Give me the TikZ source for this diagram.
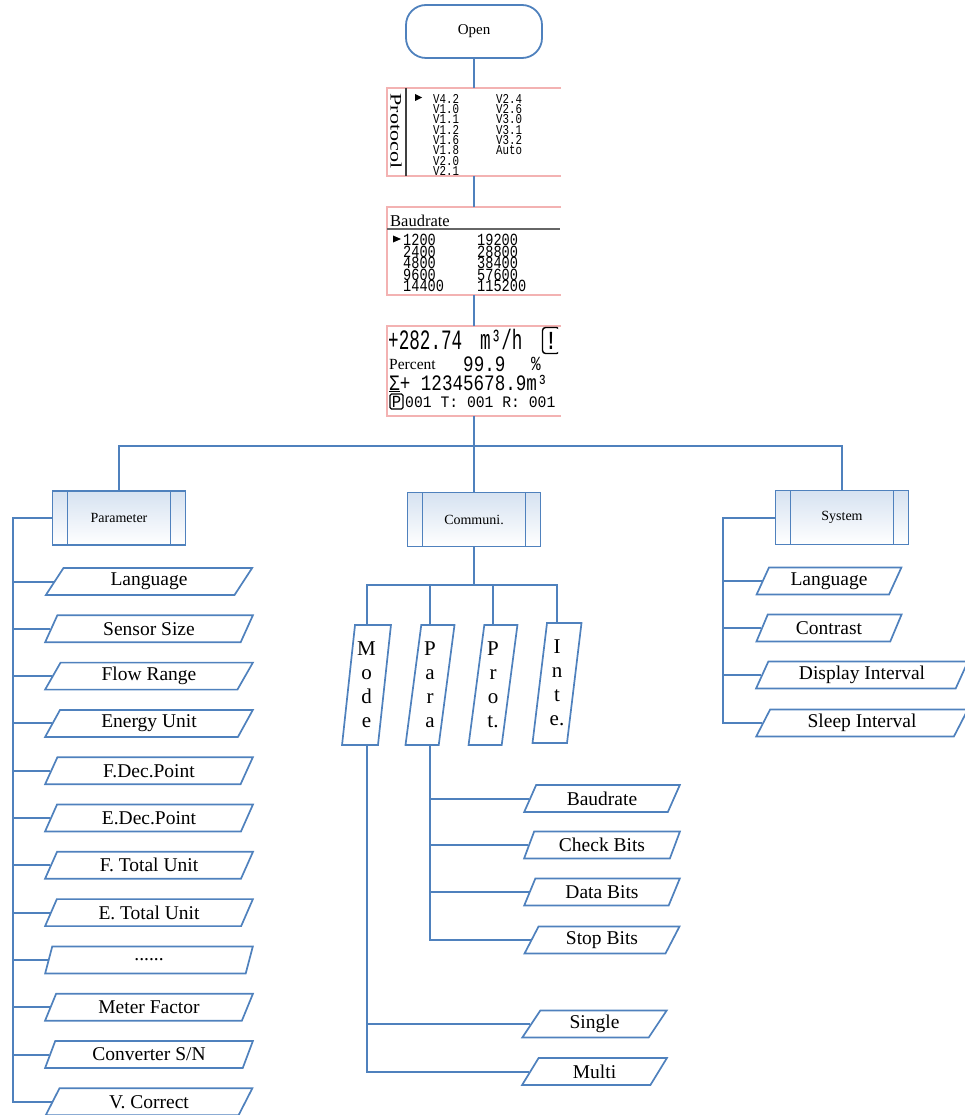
\documentclass[tikz,border=0pt]{standalone}
\usepackage{fontspec}
\setmainfont{Liberation Serif}
\newfontfamily\lcda[FakeStretch=0.63]{Liberation Mono}
\newfontfamily\lcdc[FakeStretch=0.8]{Liberation Mono}
\newfontfamily\lcdd[FakeStretch=0.92]{Liberation Mono}
\usetikzlibrary{shapes.geometric}
\definecolor{linec}{RGB}{79,129,189}
\definecolor{pinkc}{RGB}{243,178,178}
\definecolor{boxtop}{RGB}{214,226,241}
\newcommand{\sz}[2]{\fontsize{#1}{#2}\selectfont\lineskiplimit=-50pt}

\begin{document}
\begin{tikzpicture}[x=1pt,y=-1pt,
  link/.style={draw=linec,line width=2pt},
  term/.style={draw=linec,line width=1.8pt,rounded corners=20pt,minimum width=136pt,minimum height=53pt,font=\sz{15}{17}},
  screen/.style={minimum width=174pt,inner sep=0pt},
  proc/.style={draw=linec,line width=1.8pt,top color=boxtop,bottom color=white,minimum width=133pt,minimum height=54pt,font=\sz{14}{16},
    path picture={\draw[linec,line width=1.8pt]
      ([xshift=15pt]path picture bounding box.north west) -- ([xshift=15pt]path picture bounding box.south west)
      ([xshift=-15pt]path picture bounding box.north east) -- ([xshift=-15pt]path picture bounding box.south east);}},
  item/.style={trapezium,trapezium left angle=65,trapezium right angle=115,trapezium stretches=true,
    draw=linec,line width=1.7pt,fill=white,minimum height=27pt,inner sep=0pt,font=\sz{19.5}{22}},
  pitem/.style={item,minimum width=208pt},
  tall/.style={item,trapezium left angle=83,trapezium right angle=97,minimum width=49pt,minimum height=120pt,align=center,font=\sz{21}{24}},
  lcdtext/.style={inner sep=0pt,align=left}]

  \useasboundingbox (0,0) rectangle (965,1115);

  \node[term] (open) at (474,31.5) {Open};
  \node[screen,minimum height=88pt] (s1) at (474,132) {};
  \node[screen,minimum height=88pt] (s2) at (474,251) {};
  \node[screen,minimum height=90pt] (s3) at (474,371) {};

  \draw[pinkc,line width=1.5pt] (s1.north east) -- (s1.north west) -- (s1.south west) -- (s1.south east);
  \draw[pinkc,line width=1.5pt] (s2.north east) -- (s2.north west) -- (s2.south west) -- (s2.south east);
  \draw[pinkc,line width=1.5pt] (s3.north east) -- (s3.north west) -- (s3.south west) -- (s3.south east);

  \node[rotate=-90,inner sep=0pt,font=\sz{16}{18}] (t1) at (396,131) {\scalebox{1.38}[1]{Protocol}};
  \draw[black!75,line width=1.3pt] (406,88) -- (406,176);
  \fill (415,94) -- (422,97.5) -- (415,101) -- cycle;
  \begin{scope}
    \clip (s1.north west) rectangle (s1.south east);
    \node[lcdtext,anchor=north west,font=\lcdc\sz{13.5}{10.3}] (t2) at (433,94) {V4.2\\V1.0\\V1.1\\V1.2\\V1.6\\V1.8\\V2.0\\V2.1};
    \node[lcdtext,anchor=north west,font=\lcdc\sz{13.5}{10.3}] (t3) at (496,94) {V2.4\\V2.6\\V3.0\\V3.1\\V3.2\\Auto};
  \end{scope}

  \node[inner sep=0pt,anchor=base west,font=\sz{16.5}{18}] (t4) at (390,226) {Baudrate};
  \draw[black!60,line width=2pt] (387,229.5) -- (560,229.5);
  \fill (393,235.5) -- (401,239) -- (393,242.5) -- cycle;
  \begin{scope}
    \clip (s2.north west) rectangle (s2.south east);
    \node[lcdtext,anchor=north west,font=\lcdc\sz{17}{11.6}] (t5) at (403,234) {1200\\2400\\4800\\9600\\14400};
    \node[lcdtext,anchor=north west,font=\lcdc\sz{17}{11.6}] (t6) at (477,234) {19200\\28800\\38400\\57600\\115200};
  \end{scope}

  \begin{scope}
    \clip (s3.north west) rectangle ([xshift=-3pt]s3.south east);
    \node[inner sep=0pt,anchor=base west,font=\lcda\sz{28}{30}] (t7) at (388,349) {+282.74};
    \node[inner sep=0pt,anchor=base west,font=\lcda\sz{28}{30}] (t8) at (480,349) {m³/h};
    \node[draw,line width=1.4pt,rounded corners=3pt,minimum width=17pt,minimum height=26pt,inner sep=0pt,font=\lcda\bfseries\sz{26}{28}] (t9) at (551,340.5) {!};
    \node[inner sep=0pt,anchor=base west,font=\sz{15.5}{17}] (t10) at (389,369) {Percent};
    \node[inner sep=0pt,anchor=base west,font=\lcdc\sz{22}{24}] (t11) at (463,371) {99.9};
    \node[inner sep=0pt,anchor=base west,font=\lcdc\sz{20}{22}] (t12) at (531,370) {\%};
    \node[inner sep=0pt,anchor=base west,font=\lcdc\sz{22}{24}] (t13) at (389,390) {\underline{Σ}+ 12345678.9m³};
    \node[draw,line width=1.1pt,rounded corners=1.5pt,inner sep=0pt,minimum width=13pt,minimum height=15pt,font=\lcdd\sz{17}{19}] (t14) at (396.5,401.5) {P};
    \node[inner sep=0pt,anchor=base west,font=\lcdd\sz{16}{18}] (t15) at (405,407.5) {001 T: 001 R: 001};
  \end{scope}

  \draw[link] (open) -- (s1);
  \draw[link] (s1) -- (s2);
  \draw[link] (s2) -- (s3);

  \coordinate (bus) at (474,446);
  \node[proc] (p0) at (119,518) {Parameter};
  \node[proc] (c0) at (474,519.5) {Communi.};
  \node[proc] (y0) at (842,517.5) {System};
  \draw[link] (s3) -- (bus);
  \draw[link] (p0) |- (bus) -| (y0);
  \draw[link] (bus) -- (c0);

  \coordinate (pl) at (13,518);
  \node[pitem] (p1) at (149,581.5) {Language};
  \node[pitem] (p2) at (149,628.8) {Sensor Size};
  \node[pitem] (p3) at (149,676.1) {Flow Range};
  \node[pitem] (p4) at (149,723.4) {Energy Unit};
  \node[pitem] (p5) at (149,770.7) {F.Dec.Point};
  \node[pitem] (p6) at (149,818) {E.Dec.Point};
  \node[pitem] (p7) at (149,865.3) {F. Total Unit};
  \node[pitem] (p8) at (149,912.6) {E. Total Unit};
  \node[pitem] (p9) at (149,959.9) {......};
  \node[pitem] (p10) at (149,1007.2) {Meter Factor};
  \node[pitem] (p11) at (149,1054.5) {Converter S/N};
  \node[pitem] (p12) at (149,1101.8) {V. Correct};
  \draw[link] (p0) -- (pl) |- (p12.left side);
  \draw[link] (p1.left side) -- (p1.left side -| pl);
  \draw[link] (p2.left side) -- (p2.left side -| pl);
  \draw[link] (p3.left side) -- (p3.left side -| pl);
  \draw[link] (p4.left side) -- (p4.left side -| pl);
  \draw[link] (p5.left side) -- (p5.left side -| pl);
  \draw[link] (p6.left side) -- (p6.left side -| pl);
  \draw[link] (p7.left side) -- (p7.left side -| pl);
  \draw[link] (p8.left side) -- (p8.left side -| pl);
  \draw[link] (p9.left side) -- (p9.left side -| pl);
  \draw[link] (p10.left side) -- (p10.left side -| pl);
  \draw[link] (p11.left side) -- (p11.left side -| pl);

  \coordinate (cbus) at (474,585);
  \node[tall] (c1) at (366.5,685) {M\\o\\d\\e};
  \node[tall] (c2) at (430,685) {P\\a\\r\\a};
  \node[tall] (c3) at (493,685) {P\\r\\o\\t.};
  \node[tall] (c4) at (557,683) {I\\n\\t\\e.};
  \draw[link] (c0) -- (cbus);
  \draw[link] (c1) |- (cbus) -| (c4);
  \draw[link] (c2) -- (c2 |- cbus);
  \draw[link] (c3) -- (c3 |- cbus);

  \node[item,minimum width=156pt] (b1) at (602,798.5) {Baudrate};
  \node[item,minimum width=156pt] (b2) at (602,845) {Check Bits};
  \node[item,minimum width=156pt] (b3) at (602,892) {Data Bits};
  \node[item,minimum width=156pt] (b4) at (602,940) {Stop Bits};
  \draw[link] (c2) |- (b4.left side);
  \draw[link] (b1.left side) -- (b1.left side -| c2.south);
  \draw[link] (b2.left side) -- (b2.left side -| c2.south);
  \draw[link] (b3.left side) -- (b3.left side -| c2.south);

  \node[item,minimum width=145pt] (m1) at (594.5,1024) {Single};
  \node[item,minimum width=145pt] (m2) at (594.5,1071.5) {Multi};
  \draw[link] (c1) |- (m2.left side);
  \draw[link] (m1.left side) -- (m1.left side -| c1.south);

  \coordinate (yl) at (723,517.5);
  \node[item,minimum width=146pt] (y1) at (829,581) {Language};
  \node[item,minimum width=146pt] (y2) at (829,628) {Contrast};
  \node[item,minimum width=212pt] (y3) at (862,675) {Display Interval};
  \node[item,minimum width=212pt] (y4) at (862,723) {Sleep Interval};
  \draw[link] (y0) -- (yl) |- (y4.left side);
  \draw[link] (y1.left side) -- (y1.left side -| yl);
  \draw[link] (y2.left side) -- (y2.left side -| yl);
  \draw[link] (y3.left side) -- (y3.left side -| yl);
\end{tikzpicture}
\end{document}
